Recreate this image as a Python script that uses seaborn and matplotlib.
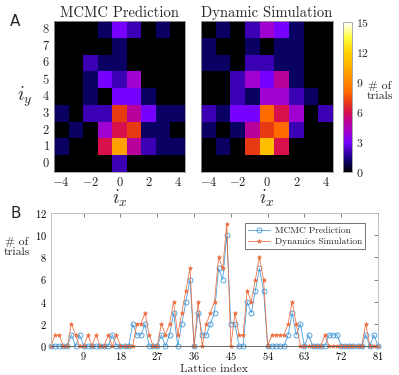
import numpy as np
import pandas as pd
import matplotlib
matplotlib.use("Agg")
import matplotlib.pyplot as plt
import seaborn as sns
from matplotlib.colors import LinearSegmentedColormap

sns.set_style("white")
plt.rcParams["font.family"] = "serif"
plt.rcParams["font.serif"] = ["cmr10"]
plt.rcParams["mathtext.fontset"] = "cm"
plt.rcParams["axes.formatter.use_mathtext"] = True
plt.rcParams["axes.unicode_minus"] = False

# lattice grid, rows from i_y = 8 (top) to 0, columns i_x = -4..4
ix_vals = [-4, -3, -2, -1, 0, 1, 2, 3, 4]
iy_vals = [8, 7, 6, 5, 4, 3, 2, 1, 0]

mcmc_grid = [
    [0, 0, 0, 1, 3, 2, 0, 1, 0],
    [0, 0, 0, 0, 1, 0, 0, 0, 0],
    [0, 0, 2, 1, 1, 0, 0, 0, 0],
    [0, 0, 1, 3, 2, 4, 0, 0, 0],
    [0, 0, 1, 0, 3, 3, 1, 0, 0],
    [1, 0, 2, 2, 7, 5, 3, 1, 1],
    [0, 1, 0, 4, 6, 7, 1, 1, 0],
    [1, 0, 0, 6, 10, 5, 2, 1, 1],
    [0, 0, 0, 0, 2, 0, 0, 0, 0],
]
dyn_grid = [
    [0, 1, 0, 2, 4, 3, 1, 0, 0],
    [1, 0, 0, 1, 0, 1, 1, 0, 0],
    [1, 1, 0, 2, 2, 1, 1, 0, 0],
    [0, 0, 2, 4, 3, 5, 1, 0, 0],
    [0, 0, 2, 1, 4, 4, 2, 1, 0],
    [2, 1, 3, 3, 8, 6, 4, 0, 2],
    [1, 0, 1, 5, 7, 8, 2, 0, 0],
    [0, 1, 0, 7, 11, 6, 0, 0, 0],
    [0, 0, 0, 0, 0, 0, 0, 0, 0],
]

# panel B: counts per lattice index 1..81
lattice_idx = list(range(1, 82))
mcmc_counts = [0, 0, 0, 0, 0, 1, 0, 1, 0,
               0, 0, 0, 0, 0, 0, 1, 0, 0,
               0, 0, 2, 1, 1, 2, 0, 0, 0,
               1, 0, 1, 3, 0, 2, 4, 6, 0,
               3, 1, 1, 2, 3, 7, 6, 10, 2,
               2, 0, 0, 4, 3, 5, 7, 5, 0,
               0, 0, 0, 0, 1, 3, 1, 2, 0,
               1, 0, 0, 0, 0, 1, 1, 1, 0,
               0, 0, 0, 0, 0, 1, 0, 1, 0]
dyn_counts = [0, 1, 1, 0, 0, 2, 1, 0, 0,
              1, 0, 1, 0, 0, 1, 0, 1, 0,
              0, 0, 0, 2, 2, 3, 1, 0, 0,
              2, 1, 2, 4, 1, 3, 5, 7, 0,
              4, 0, 2, 3, 4, 8, 7, 11, 0,
              3, 1, 1, 5, 4, 6, 8, 6, 0,
              1, 1, 1, 1, 2, 4, 2, 0, 0,
              0, 0, 0, 0, 1, 0, 0, 0, 0,
              0, 0, 0, 0, 0, 2, 0, 0, 0]

cmap = LinearSegmentedColormap.from_list("trials", [
    (0.0, "#000000"), (1/15, "#0a0064"), (2/15, "#3c00b4"), (3/15, "#7800ff"),
    (4/15, "#a000d0"), (5/15, "#b8009a"), (6/15, "#d8104c"), (7/15, "#e83a12"),
    (8/15, "#ff6a00"), (10/15, "#ffa000"), (11/15, "#ffbe00"), (12/15, "#ffd000"),
    (13.5/15, "#ffff40"), (1.0, "#ffffff")])

W, H = 399, 375
fig = plt.figure(figsize=(W / 100, H / 100), dpi=100)

def px_axes(x0, y0, x1, y1):
    return fig.add_axes([x0 / W, 1 - y1 / H, (x1 - x0) / W, (y1 - y0) / H])

ax1 = px_axes(54, 21, 185, 172)
ax2 = px_axes(201, 21, 333, 172)
cax = px_axes(343, 22, 352, 172)
ax3 = px_axes(51, 213, 378, 346)

edge = "#9a9a9a"
for ax, grid, title in [(ax1, mcmc_grid, "MCMC Prediction"),
                        (ax2, dyn_grid, "Dynamic Simulation")]:
    df = pd.DataFrame(grid, index=iy_vals, columns=ix_vals)
    sns.heatmap(df, ax=ax, cmap=cmap, vmin=0, vmax=15,
                cbar=(ax is ax2), cbar_ax=cax if ax is ax2 else None)
    ax.set_xticks([0.5, 2.5, 4.5, 6.5, 8.5])
    ax.set_xticklabels([f"${v}$" for v in [-4, -2, 0, 2, 4]], rotation=0, fontsize=9)
    if ax is ax1:
        ax.set_yticks([i + 0.5 for i in range(9)])
        ax.set_yticklabels([f"${v}$" for v in iy_vals], rotation=0, fontsize=9)
        ax.set_ylabel("$i_y$", fontsize=14, rotation=0, labelpad=12, va="center")
    else:
        ax.set_yticks([])
        ax.set_ylabel("")
    ax.tick_params(length=0, pad=3)
    ax.set_xlabel("$i_x$", fontsize=14, labelpad=-1)
    ax.set_title(title, fontsize=10.5, pad=3)
    for s in ax.spines.values():
        s.set_visible(True)
        s.set_color(edge)
        s.set_linewidth(0.6)

cbar = ax2.collections[0].colorbar
cbar.set_ticks([0, 3, 6, 9, 12, 15])
cbar.set_ticklabels([f"${v}$" for v in [0, 3, 6, 9, 12, 15]])
cax.tick_params(labelsize=8.5, length=0, pad=3)
cbar.outline.set_edgecolor(edge)
cbar.outline.set_linewidth(0.6)
fig.text(380 / W, 1 - 91 / H, "# of\ntrials", fontsize=8.5, ha="center",
         va="center", linespacing=1.0)

blue = "#3d97dc"
orange = "#ee6b3c"
sns.lineplot(x=lattice_idx, y=mcmc_counts, ax=ax3, color=blue, lw=0.55,
             marker="o", markersize=3.6, markerfacecolor="none",
             markeredgecolor=blue, markeredgewidth=0.6, clip_on=False,
             label="MCMC Prediction")
sns.lineplot(x=lattice_idx, y=dyn_counts, ax=ax3, color=orange, lw=0.55,
             marker="*", markersize=3.2, markeredgecolor=orange,
             markeredgewidth=0.4, markerfacecolor=orange, clip_on=False,
             label="Dynamics Simulation")
ax3.set_xlim(1, 81)
ax3.set_ylim(0, 12)
ax3.set_xticks([9, 18, 27, 36, 45, 54, 63, 72, 81])
ax3.set_xticklabels([f"${v}$" for v in [9, 18, 27, 36, 45, 54, 63, 72, 81]])
ax3.set_yticks([0, 2, 4, 6, 8, 10, 12])
ax3.set_yticklabels([f"${v}$" for v in [0, 2, 4, 6, 8, 10, 12]])
ax3.tick_params(direction="in", length=3, width=0.5, colors="#555555",
                labelcolor="black", labelsize=7.5, top=True, right=True, pad=3)
ax3.set_xlabel("Lattice index", fontsize=8.5, labelpad=2)
ax3.set_ylabel("")
for s in ax3.spines.values():
    s.set_color("#b5b5b5")
    s.set_linewidth(0.6)
ax3.spines["bottom"].set_color("#555555")
leg = ax3.legend(loc="upper right", fontsize=6.8, frameon=True, fancybox=False,
                 handlelength=2.3, handletextpad=0.5, borderpad=0.35,
                 labelspacing=0.25, bbox_to_anchor=(0.975, 0.96))
leg.get_frame().set_edgecolor("#333333")
leg.get_frame().set_linewidth(0.6)
fig.text(17 / W, 1 - 247 / H, "# of\ntrials", fontsize=8.5, ha="center",
         va="center", linespacing=1.1)

fig.text(10 / W, 1 - 22 / H, "A", fontsize=11, family="DejaVu Sans",
         va="center", ha="left")
fig.text(10 / W, 1 - 214 / H, "B", fontsize=11, family="DejaVu Sans",
         va="center", ha="left")

fig.savefig("out.png", dpi=100)
